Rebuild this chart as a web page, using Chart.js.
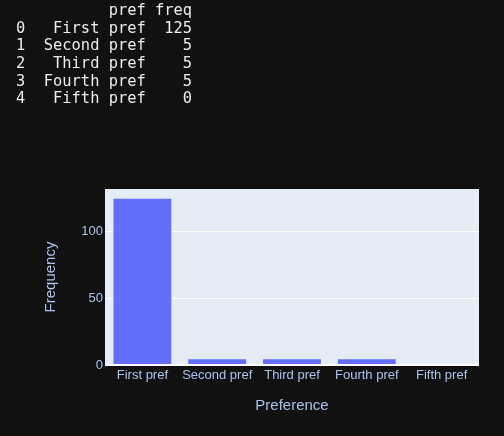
<!DOCTYPE html>
<html>
<head>
<meta charset="utf-8">
<script src="https://cdn.jsdelivr.net/npm/chart.js@4"></script>
<style>
  html, body { margin: 0; padding: 0; background: #111111; width: 504px; height: 436px; overflow: hidden; }
  #wrap { position: absolute; left: 0; top: 0; width: 504px; height: 436px; }
  pre#table { position: absolute; left: 16px; top: 2px; margin: 0; font-family: "DejaVu Sans Mono", monospace; font-size: 15.4px; line-height: 17.66px; color: #ececec; }
</style>
</head>
<body>
<div id="wrap"><canvas id="c" width="504" height="436"></canvas></div>
<pre id="table"></pre>
<script>
const categories = ["First pref", "Second pref", "Third pref", "Fourth pref", "Fifth pref"];
const freq = [125, 5, 5, 5, 0];
const yTicks = [0, 50, 100];
const tableHeader = ["pref", "freq"];

// text table (pandas-style)
(function () {
  const idxW = String(categories.length - 1).length;
  const prefW = Math.max(tableHeader[0].length, ...categories.map(s => s.length));
  const freqW = Math.max(tableHeader[1].length, ...freq.map(v => String(v).length));
  const lines = [];
  lines.push(" ".repeat(idxW) + "  " + tableHeader[0].padStart(prefW) + " " + tableHeader[1].padStart(freqW));
  categories.forEach((c, i) => {
    lines.push(String(i).padEnd(idxW) + "  " + c.padStart(prefW) + " " + String(freq[i]).padStart(freqW));
  });
  document.getElementById("table").textContent = lines.join("\n");
})();

const textColor = "#aac4ec";
const plotBg = "#E5ECF6";

const bgPlugin = {
  id: "plotBg",
  beforeDraw(chart) {
    const { ctx, chartArea: a } = chart;
    ctx.save();
    ctx.fillStyle = plotBg;
    ctx.fillRect(a.left, a.top, a.right - a.left, a.bottom - a.top);
    ctx.restore();
  }
};

new Chart(document.getElementById("c"), {
  type: "bar",
  data: {
    labels: categories,
    datasets: [{
      data: freq,
      backgroundColor: "#636EFA",
      borderColor: "rgba(229,236,246,0.6)",
      borderWidth: 1,
      barPercentage: 0.8,
      categoryPercentage: 1.0
    }]
  },
  options: {
    responsive: false,
    animation: false,
    devicePixelRatio: 1,
    layout: { padding: { left: 0, top: 189, right: 25, bottom: 0 } },
    plugins: { legend: { display: false }, tooltip: { enabled: false } },
    scales: {
      x: {
        grid: { display: false, drawTicks: false },
        border: { display: false },
        ticks: { color: textColor, font: { family: "Liberation Sans", size: 13 }, padding: 3, maxRotation: 0 },
        title: { display: true, text: "Preference", color: textColor, font: { family: "Liberation Sans", size: 15 }, padding: { top: 0, bottom: 21 } },
        afterFit(scale) { scale.height = 71; }
      },
      y: {
        min: 0,
        max: 131.58,
        grid: {
          color: "#ffffff",
          lineWidth: (ctx) => (ctx.tick && ctx.tick.value === 0 ? 2 : 1),
          drawTicks: false
        },
        border: { display: false },
        ticks: { color: textColor, font: { family: "Liberation Sans", size: 13 }, padding: 2 },
        afterBuildTicks(scale) { scale.ticks = yTicks.map(v => ({ value: v })); },
        title: { display: true, text: "Frequency", color: textColor, font: { family: "Liberation Sans", size: 15 }, padding: { top: 42, bottom: 0 } },
        afterFit(scale) { scale.width = 105; }
      }
    }
  },
  plugins: [bgPlugin]
});
</script>
</body>
</html>
